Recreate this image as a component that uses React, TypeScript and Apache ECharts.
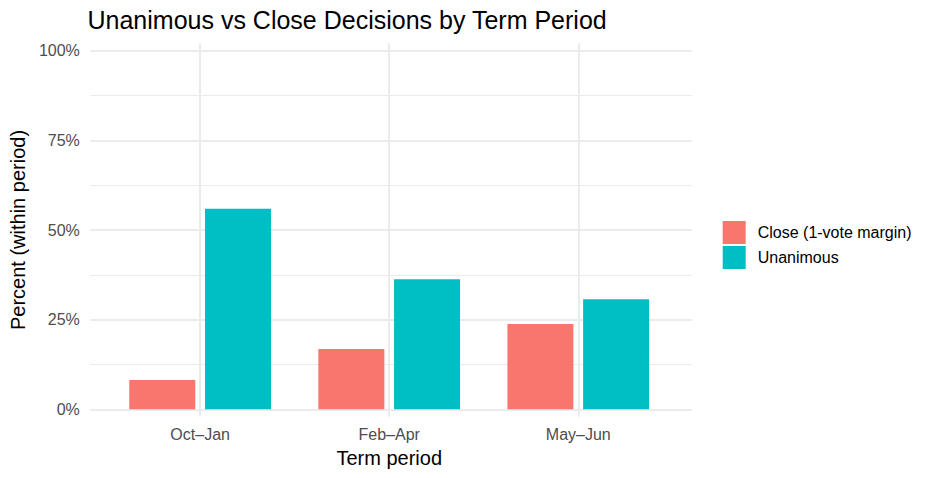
import React, { useEffect, useRef } from "react";
import * as echarts from "echarts";

const categories = ["Oct–Jan", "Feb–Apr", "May–Jun"];
const closeValues = [8.2, 16.8, 23.8];
const unanimousValues = [55.9, 36.3, 30.7];
const seriesNames = ["Close (1-vote margin)", "Unanimous"];
const yTicks = [0, 25, 50, 75, 100];

const FONT = "'Liberation Sans', Arial, Helvetica, sans-serif";
const GRID_COLOR = "#EBEBEB";

export default function App() {
  const ref = useRef<HTMLDivElement>(null);
  useEffect(() => {
    if (!ref.current) return;
    const chart = echarts.init(ref.current, null, { renderer: "svg" });
    const panelLeft = 86.7;
    const panelWidth = 605;
    const yTop = 50.7;
    const yHeight = 358.6;
    const band = panelWidth / (categories.length - 1 + 1.2);
    const barLeft = panelLeft + 0.1 * band;
    const barWidthTotal = band * categories.length;
    const expand = (416.7 - 409.3) / yHeight;
    const yMin = yTicks[0];
    const yMax = yTicks[yTicks.length - 1];
    const ext = (yMax - yMin) * expand;

    chart.setOption({
      animation: false,
      backgroundColor: "#FFFFFF",
      textStyle: { fontFamily: FONT },
      title: {
        text: "Unanimous vs Close Decisions by Term Period",
        left: 87.5,
        top: 7,
        padding: 0,
        textStyle: { fontFamily: FONT, fontSize: 25, fontWeight: "normal", color: "#000000" },
      },
      legend: {
        orient: "vertical",
        left: 722.7,
        top: 221,
        itemWidth: 23,
        itemHeight: 23,
        itemGap: 2,
        icon: "rect",
        padding: 0,
        selectedMode: false,
        data: seriesNames,
        textStyle: { fontFamily: FONT, fontSize: 16, color: "#000000", padding: [0, 0, 0, 7] },
      },
      grid: [
        { left: panelLeft, width: panelWidth, top: yTop, height: yHeight, containLabel: false },
        { left: barLeft, width: barWidthTotal, top: yTop - ext * yHeight / 100, height: yHeight * (1 + 2 * expand), containLabel: false },
      ],
      xAxis: [
        { type: "value", gridIndex: 0, min: 0, max: 1, show: false },
        {
          type: "category",
          gridIndex: 1,
          data: categories,
          axisLine: { show: false },
          axisTick: { show: false },
          splitLine: { show: false },
          axisLabel: { fontFamily: FONT, fontSize: 16, color: "#4D4D4D", margin: 10 },
          name: "Term period",
          nameLocation: "middle",
          nameGap: 29,
          nameTextStyle: { fontFamily: FONT, fontSize: 20, color: "#000000" },
        },
      ],
      yAxis: [
        {
          type: "value",
          gridIndex: 0,
          min: yMin,
          max: yMax,
          interval: 25,
          axisLine: { show: false },
          axisTick: { show: false },
          axisLabel: { formatter: "{value}%", fontFamily: FONT, fontSize: 16, color: "#4D4D4D", margin: 10.7 },
          splitLine: { show: true, lineStyle: { color: GRID_COLOR, width: 2 } },
          minorTick: { show: false, splitNumber: 2 },
          minorSplitLine: { show: true, lineStyle: { color: GRID_COLOR, width: 1 } },
          name: "Percent (within period)",
          nameLocation: "middle",
          nameGap: 56,
          nameTextStyle: { fontFamily: FONT, fontSize: 20, color: "#000000" },
        },
        {
          type: "value",
          gridIndex: 1,
          min: yMin - ext,
          max: yMax + ext,
          show: false,
          splitLine: { show: false },
        },
      ],
      series: [
        {
          name: "gridlines",
          type: "line",
          xAxisIndex: 1,
          yAxisIndex: 1,
          data: [],
          silent: true,
          z: 1,
          markLine: {
            silent: true,
            symbol: "none",
            label: { show: false },
            lineStyle: { color: GRID_COLOR, width: 2, type: "solid" },
            z: 1,
            data: categories.map((c) => ({ xAxis: c })),
          },
        },
        {
          name: seriesNames[0],
          type: "bar",
          xAxisIndex: 1,
          yAxisIndex: 1,
          data: closeValues,
          barWidth: 66,
          barGap: "14.7%",
          itemStyle: { color: "#F8766D" },
          z: 3,
        },
        {
          name: seriesNames[1],
          type: "bar",
          xAxisIndex: 1,
          yAxisIndex: 1,
          data: unanimousValues,
          barWidth: 66,
          barGap: "14.7%",
          itemStyle: { color: "#00BFC4" },
          z: 3,
        },
      ],
    });
    return () => chart.dispose();
  }, []);
  return (
    <div
      ref={ref}
      style={{ position: "fixed", left: 0, top: 0, width: 936, height: 478, background: "#fff" }}
    />
  );
}
